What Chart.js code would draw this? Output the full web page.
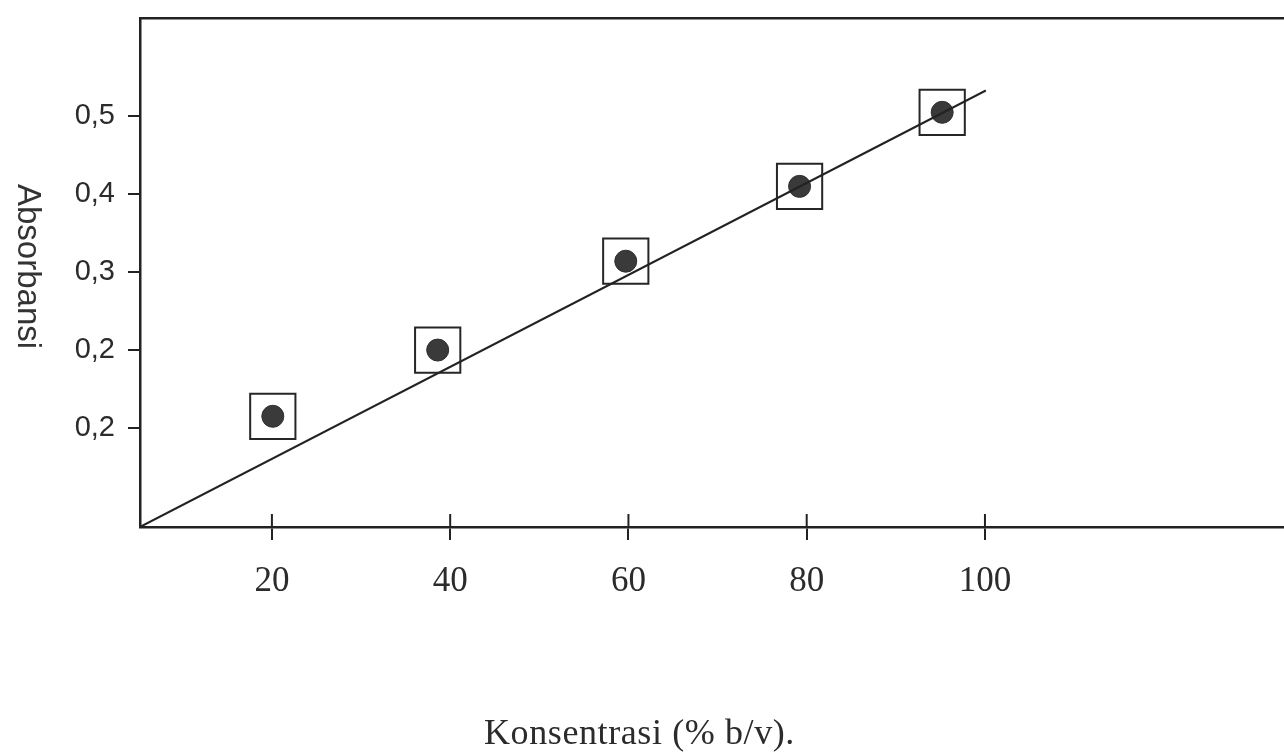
<!DOCTYPE html>
<html lang="id">
<head>
    <meta charset="UTF-8">
    <title>Absorbansi vs Konsentrasi</title>
    <script src="https://cdn.jsdelivr.net/npm/chart.js"></script>
    <style>
        body {
            margin: 0;
            background: #ffffff;
            overflow: hidden;
        }
        .wrap {
            position: relative;
            width: 1284px;
            height: 755px;
        }
        .judul-y {
            position: absolute;
            left: 10px;
            top: 184px;
            font-family: "Liberation Sans", Arial, sans-serif;
            font-size: 33px;
            line-height: 38px;
            color: #333;
            writing-mode: vertical-rl;
        }
        .judul-x {
            position: absolute;
            left: 484px;
            top: 714px;
            font-family: "Liberation Serif", "Times New Roman", serif;
            font-size: 36px;
            letter-spacing: 0.6px;
            line-height: 36px;
            color: #2b2b2b;
            white-space: nowrap;
        }
    </style>
</head>
<body>
    <div class="wrap">
        <canvas id="grafik" width="1284" height="755"></canvas>
        <div class="judul-y">Absorbansi</div>
        <div class="judul-x">Konsentrasi (% b/v).</div>
    </div>

    <script>
        // titik pengukuran
        const konsentrasi = [20.1, 38.6, 59.7, 79.2, 95.2];
        const absorbansi = [0.115, 0.200, 0.314, 0.410, 0.505];

        // garis regresi (ujung-ujungnya)
        const garisX = [5.2, 100.1];
        const garisY = [-0.027, 0.533];

        // tick sumbu
        const xTicks = [20, 40, 60, 80, 100];
        const yTicks = [0.1, 0.2, 0.3, 0.4, 0.5];
        const yTickLabels = ['0,2', '0,2', '0,3', '0,4', '0,5'];

        const xMin = 5.2, xMax = 133.55;
        const yMin = -0.027, yMax = 0.626;

        const warnaGaris = '#222222';

        // buang padding label supaya area grafik tepat
        function tanpaPadding(s) {
            s.paddingLeft = 0;
            s.paddingRight = 0;
            s.paddingTop = 0;
            s.paddingBottom = 0;
        }

        // tick sumbu x juga menonjol ke dalam area grafik
        const tickDalam = {
            id: 'tickDalam',
            afterDraw(chart) {
                const sx = chart.scales.x;
                const ctx = chart.ctx;
                ctx.save();
                ctx.strokeStyle = warnaGaris;
                ctx.lineWidth = 2;
                sx.ticks.forEach(t => {
                    const px = sx.getPixelForValue(t.value);
                    ctx.beginPath();
                    ctx.moveTo(px, sx.top);
                    ctx.lineTo(px, sx.top - 13);
                    ctx.stroke();
                });
                ctx.restore();
            }
        };

        const ctx = document.getElementById('grafik').getContext('2d');
        new Chart(ctx, {
            type: 'scatter',
            data: {
                datasets: [
                    {
                        type: 'line',
                        data: garisX.map((x, i) => ({ x: x, y: garisY[i] })),
                        borderColor: warnaGaris,
                        borderWidth: 2,
                        pointRadius: 0,
                        fill: false
                    },
                    {
                        data: konsentrasi.map((x, i) => ({ x: x, y: absorbansi[i] })),
                        pointStyle: 'rect',
                        pointRadius: 32,
                        borderColor: '#262626',
                        borderWidth: 2,
                        backgroundColor: 'rgba(0,0,0,0)'
                    },
                    {
                        data: konsentrasi.map((x, i) => ({ x: x, y: absorbansi[i] })),
                        pointStyle: 'circle',
                        pointRadius: 11,
                        borderColor: '#2e2e2e',
                        borderWidth: 1,
                        backgroundColor: '#3a3a3a'
                    }
                ]
            },
            options: {
                responsive: false,
                animation: false,
                layout: { padding: 0, autoPadding: false },
                plugins: {
                    legend: { display: false },
                    tooltip: { enabled: false }
                },
                scales: {
                    x: {
                        type: 'linear',
                        position: 'bottom',
                        min: xMin,
                        max: xMax,
                        afterBuildTicks: s => { s.ticks = xTicks.map(v => ({ value: v })); },
                        afterFit: s => { s.height = 228; tanpaPadding(s); },
                        grid: {
                            drawOnChartArea: false,
                            drawTicks: true,
                            tickLength: 13,
                            color: warnaGaris,
                            lineWidth: 2
                        },
                        border: { display: true, color: warnaGaris, width: 2.5 },
                        ticks: {
                            padding: 21,
                            color: '#2b2b2b',
                            font: { family: '"Liberation Serif", serif', size: 35, lineHeight: 1.2 },
                            callback: v => String(v)
                        }
                    },
                    xAtas: {
                        type: 'linear',
                        position: 'top',
                        min: xMin,
                        max: xMax,
                        afterFit: s => { s.height = 18; tanpaPadding(s); },
                        grid: { display: false },
                        border: { display: true, color: warnaGaris, width: 2.5 },
                        ticks: { display: false }
                    },
                    y: {
                        type: 'linear',
                        position: 'left',
                        min: yMin,
                        max: yMax,
                        afterBuildTicks: s => { s.ticks = yTicks.map(v => ({ value: v })); },
                        afterFit: s => { s.width = 140; tanpaPadding(s); },
                        grid: {
                            drawOnChartArea: false,
                            drawTicks: true,
                            tickLength: 12,
                            color: warnaGaris,
                            lineWidth: 2
                        },
                        border: { display: true, color: warnaGaris, width: 2.5 },
                        ticks: {
                            padding: 13,
                            color: '#2b2b2b',
                            font: { family: '"Liberation Sans", Arial, sans-serif', size: 29 },
                            callback: (v, i) => yTickLabels[i]
                        }
                    }
                }
            },
            plugins: [tickDalam]
        });
    </script>
</body>
</html>
